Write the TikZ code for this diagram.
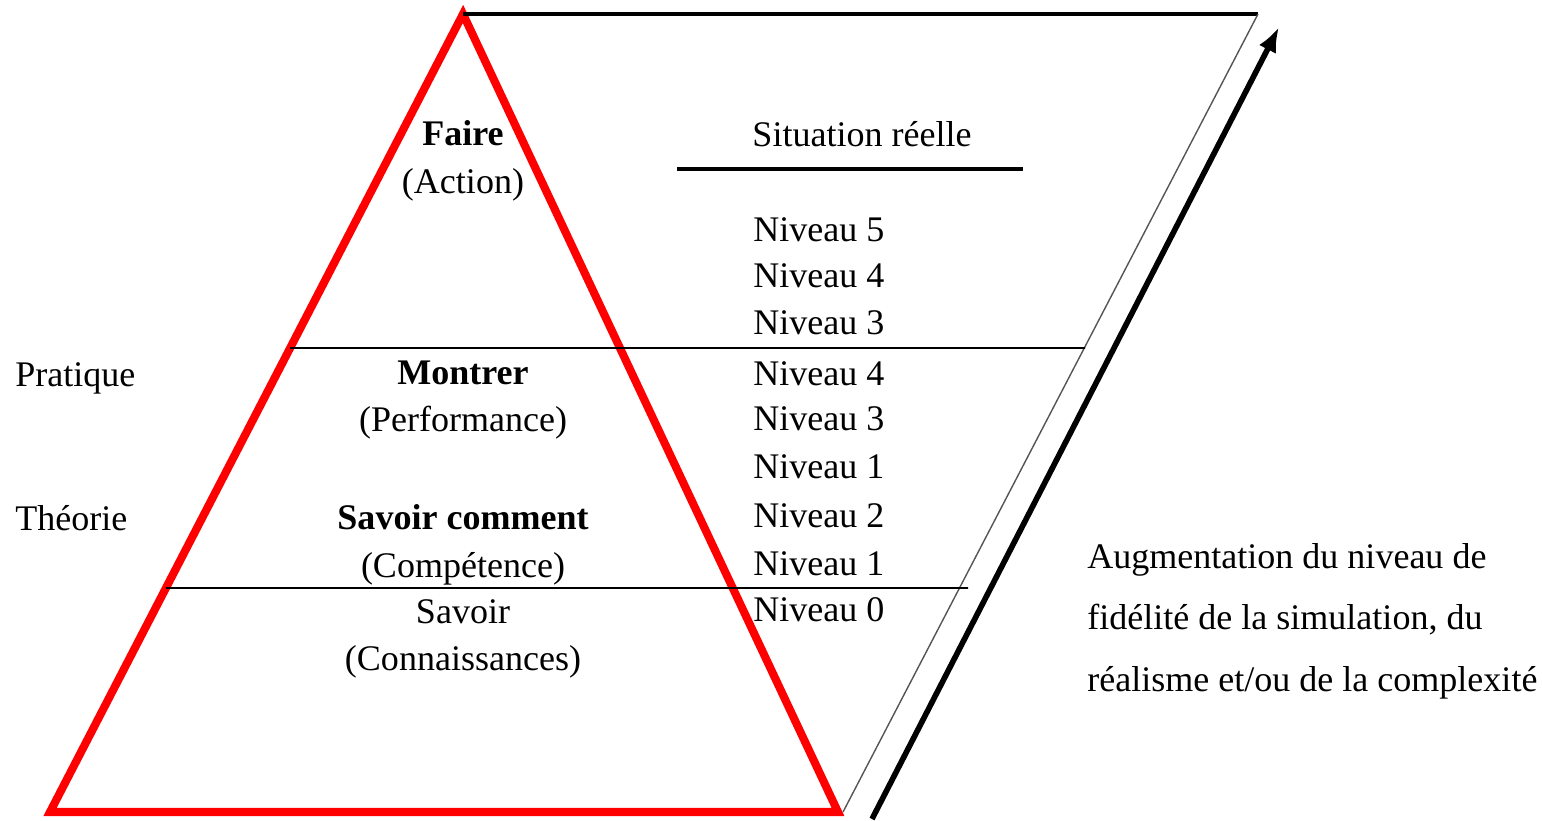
\documentclass[tikz,border=0pt]{standalone}
\usepackage{fontspec}
\setmainfont{Liberation Serif}
\usepackage{xcolor}
\definecolor{pyramidRed}{HTML}{FF0000}
\definecolor{guideGray}{HTML}{555555}
\usepackage{tikz}
\usetikzlibrary{positioning,calc,arrows.meta}
\tikzset{%
  pyramidEdge/.style={%
    draw=pyramidRed,
    line width=4.6pt,
    line join=miter
  },
  levelLine/.style={%
    draw=black,
    line width=1.1pt
  },
  topLine/.style={%
    draw=black,
    line width=1.8pt
  },
  guideLine/.style={%
    draw=guideGray,
    line width=0.8pt
  },
  growthArrow/.style={%
    -{Latex[length=5mm,width=3.8mm]},
    line width=3.2pt,
    color=black
  },
  labelText/.style={%
    font=\fontsize{20.5}{27}\selectfont,
    inner sep=0pt,
    align=center
  },
  levelText/.style={%
    font=\fontsize{20.5}{24}\selectfont,
    inner sep=0pt,
    anchor=west
  }
}

\begin{document}
\begin{tikzpicture}[x=0.02cm,y=-0.02cm]
            \useasboundingbox (0,0) rectangle (1542,821);

            % pyramid corners
            \coordinate (apex) at (463,14);
            \coordinate (baseLeft) at (50,812);
            \coordinate (baseRight) at (838,812);
            % parallelogram corners
            \coordinate (topRight) at (1258,14);
            \coordinate (bottomGuide) at (843,812);
            \coordinate (arrowStart) at (872,819);
            \coordinate (arrowEnd) at (1279,27);
            % level lines
            \coordinate (upperLeft) at ($(apex)!0.4185!(baseLeft)$);
            \coordinate (upperRight) at (1085,348);
            \coordinate (lowerLeft) at ($(apex)!0.7193!(baseLeft)$);
            \coordinate (lowerRight) at (968,588);
            \coordinate (realLeft) at (677,169);
            \coordinate (realRight) at (1023,169);

            \draw[pyramidEdge] (apex) -- (baseRight) -- (baseLeft) -- cycle;
            \draw[topLine] (apex) -- (topRight);
            \draw[guideLine] (topRight) -- (bottomGuide);
            \draw[growthArrow] (arrowStart) -- (arrowEnd);
            \draw[levelLine] (upperLeft) -- (upperRight);
            \draw[levelLine] (lowerLeft) -- (lowerRight);
            \draw[topLine] (realLeft) -- (realRight);

            % pyramid labels
            \node[labelText] (faire) at (463,161) {\textbf{Faire}\\(Action)};
            \node[labelText] (montrer) at (463,400) {\textbf{Montrer}\\(Performance)};
            \node[labelText] (savoirComment) at (463,545) {\textbf{Savoir comment}\\(Compétence)};
            \node[labelText] (savoir) at (463,639) {Savoir\\(Connaissances)};

            \node[levelText] (pratique) at (15,378) {Pratique};
            \node[levelText] (theorie) at (15,518) {Théorie};

            % real situation column
            \node[labelText] (situation) at (862,134) {Situation réelle};
            \node[levelText] (niv5) at (753,230) {Niveau 5};
            \node[levelText] (niv4a) at (753,276) {Niveau 4};
            \node[levelText] (niv3a) at (753,323) {Niveau 3};
            \node[levelText] (niv4b) at (753,374) {Niveau 4};
            \node[levelText] (niv3b) at (753,419) {Niveau 3};
            \node[levelText] (niv1a) at (753,467) {Niveau 1};
            \node[levelText] (niv2) at (753,516) {Niveau 2};
            \node[levelText] (niv1b) at (753,564) {Niveau 1};
            \node[levelText] (niv0) at (753,610) {Niveau 0};

            \node[levelText, align=left, font=\fontsize{20.5}{35}\selectfont] (growth) at (1087,621)
              {Augmentation du niveau de\\fidélité de la simulation, du\\réalisme et/ou de la complexité};
        \end{tikzpicture}
\end{document}
